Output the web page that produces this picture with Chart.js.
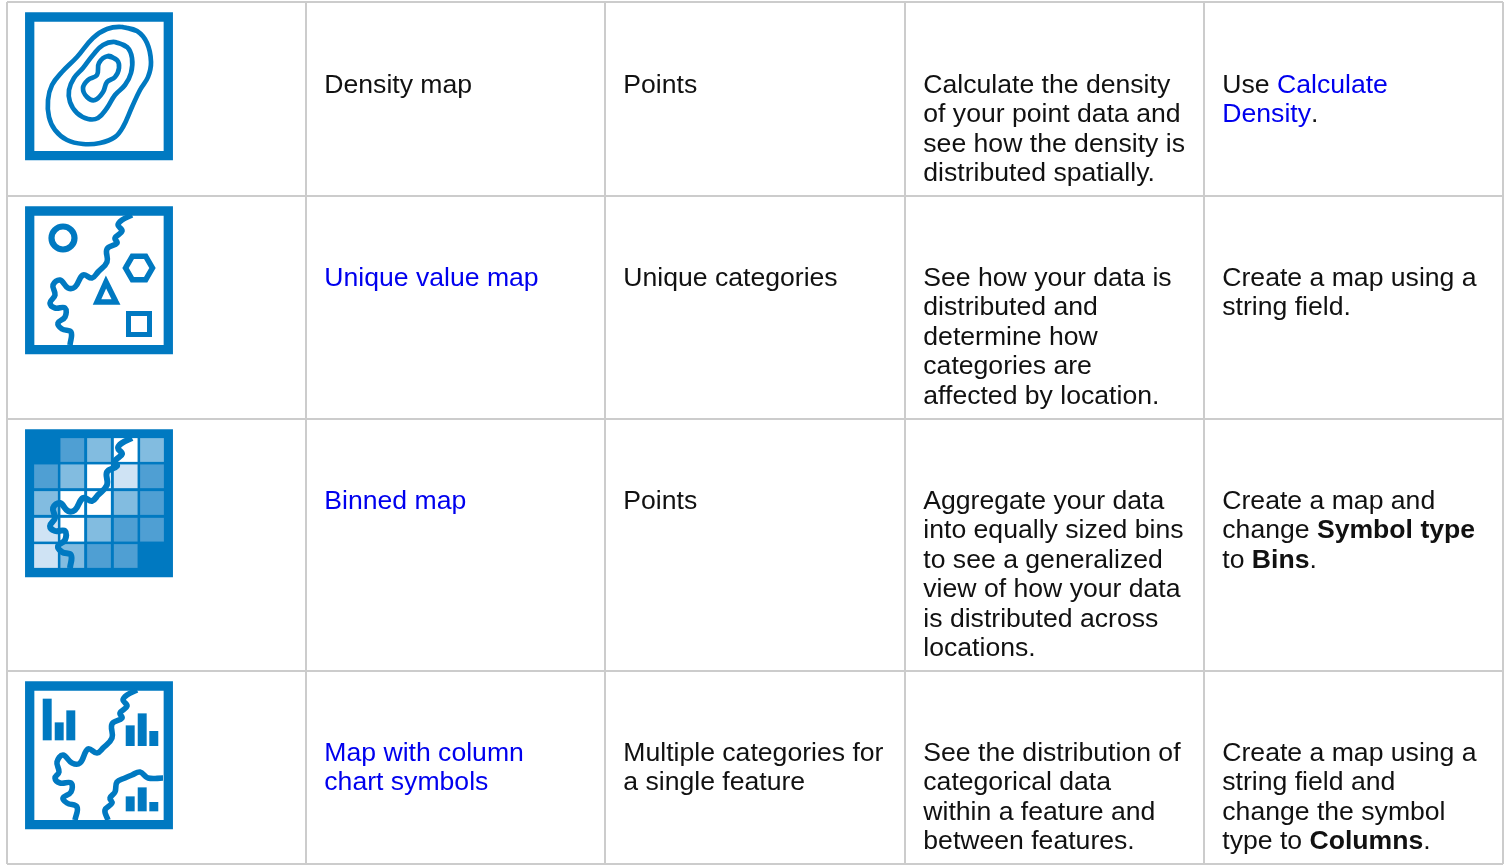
<!DOCTYPE html>
<html>
<head>
<meta charset="utf-8">
<title>Map types</title>
<script src="https://cdn.jsdelivr.net/npm/chart.js@4"></script>
<style>
    html, body { margin: 0; padding: 0; background: #fff; overflow: hidden; }
    canvas { display: block; }
</style>
</head>
<body>
<canvas id="mapTypes" width="1506" height="866"></canvas>
<script>
/* ============================================================================
   1. TABLE CONTENT  ({...} = link, *...* = bold)
   ============================================================================ */
const mapNames = [
    ["Density map"],
    ["{Unique value map}"],
    ["{Binned map}"],
    ["{Map with column}", "{chart symbols}"]
];
const inputKinds = [
    ["Points"],
    ["Unique categories"],
    ["Points"],
    ["Multiple categories for", "a single feature"]
];
const descriptions = [
    ["Calculate the density", "of your point data and", "see how the density is", "distributed spatially."],
    ["See how your data is", "distributed and", "determine how", "categories are", "affected by location."],
    ["Aggregate your data", "into equally sized bins", "to see a generalized", "view of how your data", "is distributed across", "locations."],
    ["See the distribution of", "categorical data", "within a feature and", "between features."]
];
const usage = [
    ["Use {Calculate}", "{Density}."],
    ["Create a map using a", "string field."],
    ["Create a map and", "change *Symbol type*", "to *Bins*."],
    ["Create a map using a", "string field and", "change the symbol", "type to *Columns*."]
];

const columnEdges = [7, 306, 605, 905, 1204, 1503];
const rowEdges = [2, 196, 419, 671, 864];

/* ============================================================================
   2. ICON SHAPES (in pixels from the icon's corner)
   ============================================================================ */
const contourOuter = [[97,15],[112,19],[122,31],[126,50],[123,65],[115,78],[107,95],[98,115],[90,125],[75,131],[58,132],[42,128],[30,118],[24,105],[23,88],[27,73],[37,60],[52,45],[68,26],[82,17]];
const contourMiddle = [[90,30],[102,35],[107,46],[106,61],[100,73],[90,83],[82,96],[73,106],[63,107],[52,101],[45,90],[44,78],[49,66],[58,56],[68,43],[78,33]];
const contourInner = [[83,44],[92,48],[94,56],[90,65],[82,70],[78,80],[70,88],[62,85],[58,76],[63,68],[72,63],[74,51]];

const riverWest = [[107,9],[97,14],[93,19],[97,25],[90,32],[92,37],[82,43],[82,56],[73,66],[67,72],[58,69],[50,81],[43,82],[35,74],[28,79],[30,89],[25,97],[30,102],[40,102],[40,111],[33,117],[37,123],[46,126],[45,139]];
const riverShifted = [[112,9],[102,14],[98,19],[102,25],[95,32],[97,37],[87,43],[87,57],[78,67],[72,72],[63,68],[55,82],[47,82],[38,74],[32,81],[34,91],[30,97],[35,102],[46,102],[46,111],[38,117],[42,122],[52,126],[50,139]];
const riverEast = [[138,97],[123,97],[115,91],[107,94],[100,97],[92,101],[90,111],[85,117],[87,122],[80,129],[83,139]];

const circleMark = [[38,32]];
const squareMark = [[114,118]];
const hexagonMark = [[100.5,62],[107.3,50.3],[120.7,50.3],[127.5,62],[120.7,73.7],[107.3,73.7]];
const triangleMark = [[81,76],[91,96],[72,96]];

// shade of each bin: 0 none, 1 mid, 2 light, 3 pale, 4 white
const binCenters = [21, 47.3, 74, 100.7, 127];
const binLevels = [
    [0, 1, 2, 4, 2],
    [1, 2, 4, 3, 1],
    [2, 4, 4, 2, 1],
    [3, 4, 2, 1, 1],
    [3, 2, 1, 1, 0]
];

const columnBars = [
    [22.2, 18, 59], [34.2, 41.7, 59], [45.8, 29.7, 59],
    [105.2, 44.7, 64.7], [117.2, 32.7, 64.7], [128.8, 50.3, 64.7],
    [105.2, 115.7, 130], [117.2, 106.7, 130], [128.8, 121.3, 130]
];

/* ============================================================================
   3. THEME + DATASET HELPERS
   ============================================================================ */
const theme = {
    icon: "#0079c1",
    grid: "#cccccc",
    text: "#111111",
    link: "#0000ee",
    bins: ["#0079c1", "#4f9fd3", "#82bce0", "#cfe3f4", "#ffffff"],
    font: '"Liberation Sans", Arial, sans-serif'
};

const ICON_LEFT = 25;
const ICON_DROP = 10;
const TEXT_INSET = 18.3;
const FIRST_BASELINES = [90.8, 90, 90, 90];
const LINE_HEIGHT = 29.45;
const FONT_SIZE = 26.6;

function place(points, row) {
    return points.map(p => ({ x: ICON_LEFT + p[0], y: rowEdges[row] + ICON_DROP + p[1] }));
}

function closeLoop(points) {
    return [...points, points[0], points[1]];
}

function stroke(points, row, width, tension) {
    return {
        data: place(points, row),
        showLine: true,
        borderColor: theme.icon,
        borderWidth: width,
        borderJoinStyle: tension ? "round" : "miter",
        tension,
        pointRadius: 0
    };
}

function mark(points, row, pointStyle, radius, width, fillColor) {
    return {
        data: place(points, row),
        pointStyle,
        pointRadius: radius,
        pointBorderWidth: width,
        pointBorderColor: theme.icon,
        pointBackgroundColor: fillColor
    };
}

const iconCenter = [[74, 74.3]];
const NONE = "rgba(0,0,0,0)";

// earlier datasets are painted on top of later ones
const datasets = [
    // density
    stroke(closeLoop(contourOuter), 0, 4.7, 0.4),
    stroke(closeLoop(contourMiddle), 0, 4.7, 0.4),
    stroke(closeLoop(contourInner), 0, 4.7, 0.4),
    mark(iconCenter, 0, "rect", 98, 9.3, NONE),
    // unique values
    stroke(riverWest, 1, 5.6, 0.4),
    mark(circleMark, 1, "circle", 11.5, 6.2, NONE),
    mark(squareMark, 1, "rect", 14.85, 5, NONE),
    stroke(closeLoop(hexagonMark), 1, 5.5, 0),
    stroke(closeLoop(triangleMark), 1, 5.5, 0),
    mark(iconCenter, 1, "rect", 98, 9.3, NONE),
    // bins
    stroke(riverWest, 2, 6, 0.4),
    {
        data: place(binLevels.flatMap((levels, r) => levels.map((_, c) => [binCenters[c], binCenters[r]])), 2),
        pointStyle: "rect",
        pointRadius: 16.8,
        pointBorderWidth: 0,
        pointBackgroundColor: binLevels.flat().map(level => theme.bins[level])
    },
    mark(iconCenter, 2, "rect", 104.6, 0, theme.icon),
    // columns
    stroke(riverShifted, 3, 5.6, 0.4),
    stroke(riverEast, 3, 5.6, 0.4),
    {
        type: "bar",
        data: place(columnBars, 3).map((p, i) => ({
            x: p.x,
            y: [rowEdges[3] + ICON_DROP + columnBars[i][1], rowEdges[3] + ICON_DROP + columnBars[i][2]]
        })),
        backgroundColor: theme.icon,
        barThickness: 8.3
    },
    mark(iconCenter, 3, "rect", 98, 9.3, NONE)
];

/* ============================================================================
   4. CELL TEXT PLUGIN
   ============================================================================ */
function drawLine(ctx, line, x, y) {
    line.split(/(\{[^}]*\}|\*[^*]*\*)/).filter(Boolean).forEach(part => {
        const isLink = part[0] === "{";
        const isBold = part[0] === "*";
        const text = isLink || isBold ? part.slice(1, -1) : part;
        ctx.font = `${isBold ? "bold " : ""}${FONT_SIZE}px ${theme.font}`;
        ctx.fillStyle = isLink ? theme.link : theme.text;
        ctx.fillText(text, x, y);
        x += ctx.measureText(text).width;
    });
}

const cellTextPlugin = {
    id: "cellTextPlugin",
    afterDraw(chart) {
        const { ctx, scales } = chart;
        const columns = [mapNames, inputKinds, descriptions, usage];
        ctx.save();
        ctx.textBaseline = "alphabetic";
        columns.forEach((cells, c) => {
            const x = scales.x.getPixelForValue(columnEdges[c + 1]) + TEXT_INSET;
            cells.forEach((lines, r) => {
                const top = scales.y.getPixelForValue(rowEdges[r]) + FIRST_BASELINES[r];
                lines.forEach((line, i) => drawLine(ctx, line, x, top + i * LINE_HEIGHT));
            });
        });
        ctx.restore();
    }
};

/* ============================================================================
   5. CHART
   ============================================================================ */
function gridAxis(edges, extra) {
    return {
        type: "linear",
        offset: false,
        min: edges[0],
        max: edges[edges.length - 1],
        afterBuildTicks(axis) {
            axis.ticks = edges.map(value => ({ value }));
        },
        ticks: { display: false, autoSkip: false },
        grid: { color: theme.grid, lineWidth: 2, drawTicks: false, offset: false },
        border: { display: false },
        ...extra
    };
}

new Chart(document.getElementById("mapTypes"), {
    type: "scatter",
    data: { datasets },
    options: {
        responsive: false,
        animation: false,
        events: [],
        layout: { autoPadding: false, padding: { left: 7, top: 2, right: 3, bottom: 2 } },
        plugins: { legend: { display: false }, tooltip: { enabled: false } },
        scales: {
            x: gridAxis(columnEdges),
            y: gridAxis(rowEdges, { reverse: true })
        }
    },
    plugins: [cellTextPlugin]
});
</script>
</body>
</html>
